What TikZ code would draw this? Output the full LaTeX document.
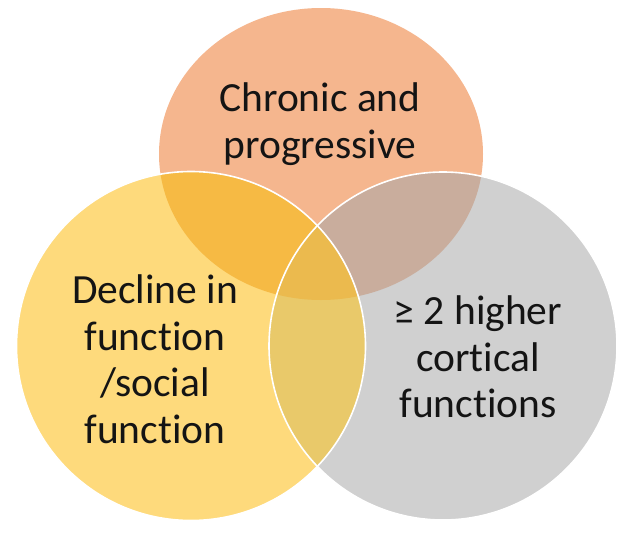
\documentclass[tikz,border=0pt]{standalone}
\usepackage{fontspec}
\setmainfont{Carlito}[RawFeature=-liga]
\definecolor{cT}{RGB}{245,182,142}
\definecolor{cL}{RGB}{254,218,124}
\definecolor{cR}{RGB}{208,208,208}
\definecolor{cTL}{RGB}{246,186,68}
\definecolor{cTR}{RGB}{201,173,157}
\definecolor{cLR}{RGB}{233,201,106}
\definecolor{cTLR}{RGB}{235,186,78}
\definecolor{txt}{RGB}{20,20,20}
\tikzset{
  lbl/.style={align=center, text=txt, inner sep=0pt, font=\fontsize{41.5}{46.5}\selectfont},
  rim/.style={draw=white, line width=1.6pt}
}
\begin{document}
\begin{tikzpicture}[x=1pt,y=-1pt]
\useasboundingbox (0,0) rectangle (640,538);
% base fills
\fill[cT] (321,154) ellipse [x radius=162, y radius=146];
\fill[cL] (191,346) circle [radius=174.5];
\fill[cR] (443,346) circle [radius=174];
% pairwise overlaps
\begin{scope}
  \clip (321,154) ellipse [x radius=162, y radius=146];
  \fill[cTL] (191,346) circle [radius=174.5];
\end{scope}
\begin{scope}
  \clip (321,154) ellipse [x radius=162, y radius=146];
  \fill[cTR] (443,346) circle [radius=174];
\end{scope}
\begin{scope}
  \clip (191,346) circle [radius=174.5];
  \fill[cLR] (443,346) circle [radius=174];
\end{scope}
\begin{scope}
  \clip (321,154) ellipse [x radius=162, y radius=146];
  \clip (191,346) circle [radius=174.5];
  \fill[cTLR] (443,346) circle [radius=174];
\end{scope}
% white rims
\path[rim] (191,346) circle [radius=174.5];
\path[rim] (443,346) circle [radius=174];
% labels
\node[lbl] (top) at (320,124) {Chronic and\\progressive};
\node[lbl] (left) at (155,359) {Decline in\\function\\/social\\function};
\node[lbl] (right) at (478,357) {≥ 2 higher\\cortical\\functions};
\end{tikzpicture}
\end{document}
